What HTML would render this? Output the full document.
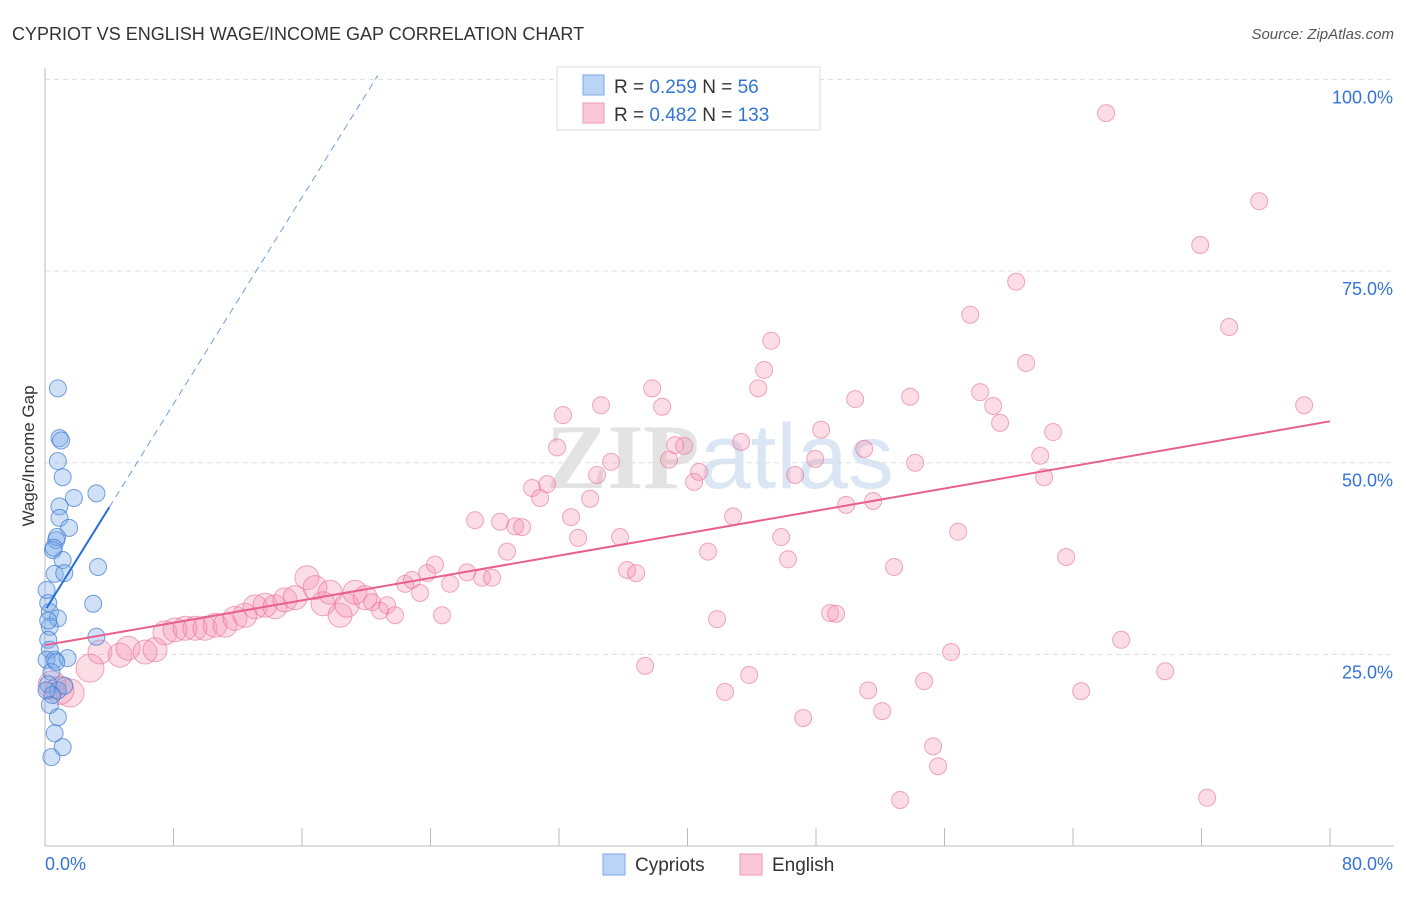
<!DOCTYPE html>
<html><head><meta charset="utf-8"><style>
body{margin:0;background:#fff;font-family:"Liberation Sans",sans-serif;}
svg text{font-family:"Liberation Sans",sans-serif;}
</style></head><body>
<svg id="chart" width="1406" height="892" viewBox="0 0 1406 892">
<text x="12" y="40" font-size="18" fill="#333">CYPRIOT VS ENGLISH WAGE/INCOME GAP CORRELATION CHART</text>
<text x="1394" y="39" font-size="15" fill="#555" font-style="italic" text-anchor="end">Source: ZipAtlas.com</text>
<text x="720" y="488" font-size="92" fill="#e6e9ee" text-anchor="middle" font-weight="bold"><tspan fill="#e3e3e3" font-family="Liberation Serif">ZIP</tspan><tspan fill="#dbe6f4" font-weight="normal">atlas</tspan></text>
<g id="grid"></g><g id="axes"></g><g id="pts"></g><g id="trend"></g>
<text transform="translate(34,456) rotate(-90)" font-size="17" fill="#333" text-anchor="middle">Wage/Income Gap</text>
<g>
<rect x="557" y="67" width="263" height="63" fill="#fff" stroke="#ddd"/>
<rect x="583" y="75" width="21" height="20" fill="#b9d4f5" stroke="#7aa7e6"/>
<rect x="583" y="103" width="21" height="20" fill="#f9c7d5" stroke="#ee98b2"/>
<text x="614" y="93" font-size="19" fill="#333">R = <tspan fill="#3374d6">0.259</tspan>   N =  <tspan fill="#3374d6"> 56</tspan></text>
<text x="614" y="121" font-size="19" fill="#333">R = <tspan fill="#3374d6">0.482</tspan>   N = <tspan fill="#3374d6">133</tspan></text>
</g>
<g>
<rect x="603" y="854" width="22" height="21" fill="#b9d4f5" stroke="#7aa7e6"/>
<text x="635" y="871" font-size="19" fill="#333">Cypriots</text>
<rect x="740" y="854" width="22" height="21" fill="#f9c7d5" stroke="#ee98b2"/>
<text x="772" y="871" font-size="19" fill="#333">English</text>
</g>
</svg>
<script>
const blueX=[0.8,0.9,1.0,0.8,1.1,3.2,1.8,0.9,0.9,1.5,0.7,0.75,0.5,1.1,0.6,1.2,3.3,0.2,3.0,0.3,0.8,0.3,0.2,0.3,3.2,0.1,0.6,1.4,0.4,0.2,0.8,1.2,0.45,0.3,0.8,0.6,1.1,0.4,0.2,0.1,0.55,0.1,0.7];
const blueY=[59.7,53.2,52.9,50.2,48.1,46.0,45.4,44.3,42.8,41.5,39.9,40.3,38.6,37.3,35.5,35.6,36.4,31.7,31.6,30.5,29.7,28.6,26.9,25.6,27.3,24.3,24.3,24.5,22.7,21.1,20.3,20.9,19.7,18.4,16.8,14.7,12.9,11.6,29.4,20.3,38.9,33.4,24.0];
const pinkX=[1.56,0.44,0.93,2.8,3.42,4.67,5.17,6.23,6.85,7.47,8.09,8.72,9.34,9.96,10.59,11.21,11.83,12.45,13.08,13.70,14.32,14.94,15.57,16.31,16.81,17.31,17.75,18.37,18.80,19.30,19.93,20.36,20.86,21.30,21.79,22.42,22.85,23.35,23.79,24.28,24.72,25.22,26.28,26.77,27.21,27.83,28.33,28.77,29.27,29.70,30.32,30.82,31.26,31.88,32.25,32.75,33.19,33.94,34.37,34.62,35.24,35.80,36.24,36.80,37.36,37.80,38.42,38.85,39.23,39.79,40.41,40.72,41.28,41.84,42.34,42.84,43.34,43.84,44.40,44.77,45.21,45.83,46.26,46.70,47.20,47.95,48.32,48.88,49.25,49.88,50.44,51.00,51.25,51.56,52.12,52.86,53.24,53.86,54.17,54.73,55.29,55.60,56.41,56.85,57.60,58.22,59.03,59.46,60.46,61.08,61.96,62.20,62.76,63.57,64.51,66.06,67.00,69.74,71.92,72.35,73.72,75.59,78.39];
const pinkY=[19.96,21.0,20.3,23.2,25.3,24.9,25.8,25.3,25.6,27.8,28.2,28.4,28.4,28.4,28.8,28.8,29.7,30.1,31.2,31.4,31.2,32.1,32.4,35.0,33.7,31.6,33.1,30.1,31.4,33.1,32.4,31.8,30.7,31.4,30.1,34.2,34.7,33.0,35.6,36.7,30.1,34.2,35.7,42.5,35.0,35.0,42.3,38.4,41.7,41.6,46.7,45.4,47.2,52.0,56.2,42.9,40.2,45.3,48.4,57.5,50.1,40.3,36.0,35.6,23.5,59.7,57.3,50.4,52.3,52.2,47.5,48.8,38.4,29.6,20.1,43.0,52.7,22.3,59.7,62.1,65.9,40.3,37.4,48.4,16.7,50.5,54.3,30.4,30.3,44.5,58.3,51.8,20.3,45.0,17.6,36.4,6.0,58.6,50.0,21.5,13.0,10.4,25.3,41.0,69.3,59.2,57.4,55.2,73.6,63.0,50.9,48.1,54.0,37.7,20.2,95.6,26.9,22.8,78.4,6.3,67.7,84.1,57.5];
const blueTrend=[30.7,3.37]; // intercept, slope
const pinkTrend=[26.2,0.365];
const xTicks=[0,8,16,24,32,40,48,56,64,72,80];
const yGrid=[25,50,75,100];
const yLabels=["25.0%","50.0%","75.0%","100.0%"];
const xLabels=["0.0%","80.0%"];

const NS="http://www.w3.org/2000/svg";
const sx=v=>45+v*16.0625, sy=v=>846-v*7.666;
function mk(t,a,p){const e=document.createElementNS(NS,t);for(const k in a)e.setAttribute(k,a[k]);p.appendChild(e);return e;}
const grid=document.getElementById('grid'),axes=document.getElementById('axes'),pts=document.getElementById('pts'),tr=document.getElementById('trend');
yGrid.forEach((v,i)=>{
 const l=mk('line',{x1:45,x2:1394,y1:sy(v),y2:sy(v),stroke:'#ddd','stroke-dasharray':'5,4'},grid);
 
 
 const t=mk('text',{x:1393,y:sy(v)+24,'font-size':18,fill:'#3374d6','text-anchor':'end'},axes);
 t.textContent=yLabels[i];
 
 
});
const ya=mk('line',{x1:45,x2:45,y1:68,y2:846,stroke:'#bbb'},axes);


const xa=mk('line',{x1:45,x2:1394,y1:846,y2:846,stroke:'#bbb'},axes);


xTicks.forEach(v=>{
 const l=mk('line',{x1:sx(v),x2:sx(v),y1:828,y2:846,stroke:'#bbb'},axes);
 
 
});
const xl0=mk('text',{x:45,y:870,'font-size':18,fill:'#3374d6'},axes);xl0.textContent=xLabels[0];


const xl1=mk('text',{x:1393,y:870,'font-size':18,fill:'#3374d6','text-anchor':'end'},axes);xl1.textContent=xLabels[1];


pinkX.forEach((x,i)=>{
 const c=mk('circle',{cx:sx(x),cy:sy(pinkY[i]),r:x<3?14:(x<20?12:8.5),fill:'rgba(244,143,172,0.3)',stroke:'rgba(232,112,150,0.6)','stroke-width':1},pts);
 
 
});
blueX.forEach((x,i)=>{
 const c=mk('circle',{cx:sx(x),cy:sy(blueY[i]),r:8.5,fill:'rgba(120,168,232,0.35)',stroke:'rgba(60,120,210,0.7)','stroke-width':1},pts);
 
 
});
const pt=mk('line',{x1:sx(0),y1:sy(pinkTrend[0]),x2:sx(80),y2:sy(pinkTrend[0]+80*pinkTrend[1]),stroke:'#e8608e','stroke-width':2},tr);


const bt=mk('line',{x1:sx(0.1),y1:sy(blueTrend[0]+0.1*blueTrend[1]),x2:sx(4),y2:sy(blueTrend[0]+4*blueTrend[1]),stroke:'#2a6fd6','stroke-width':2},tr);


const xe=(100.5-blueTrend[0])/blueTrend[1];
const bd=mk('line',{x1:sx(4),y1:sy(blueTrend[0]+4*blueTrend[1]),x2:sx(xe),y2:sy(100.5),stroke:'#6f9be0','stroke-width':1,'stroke-dasharray':'7,5'},tr);


</script>
</body></html>
